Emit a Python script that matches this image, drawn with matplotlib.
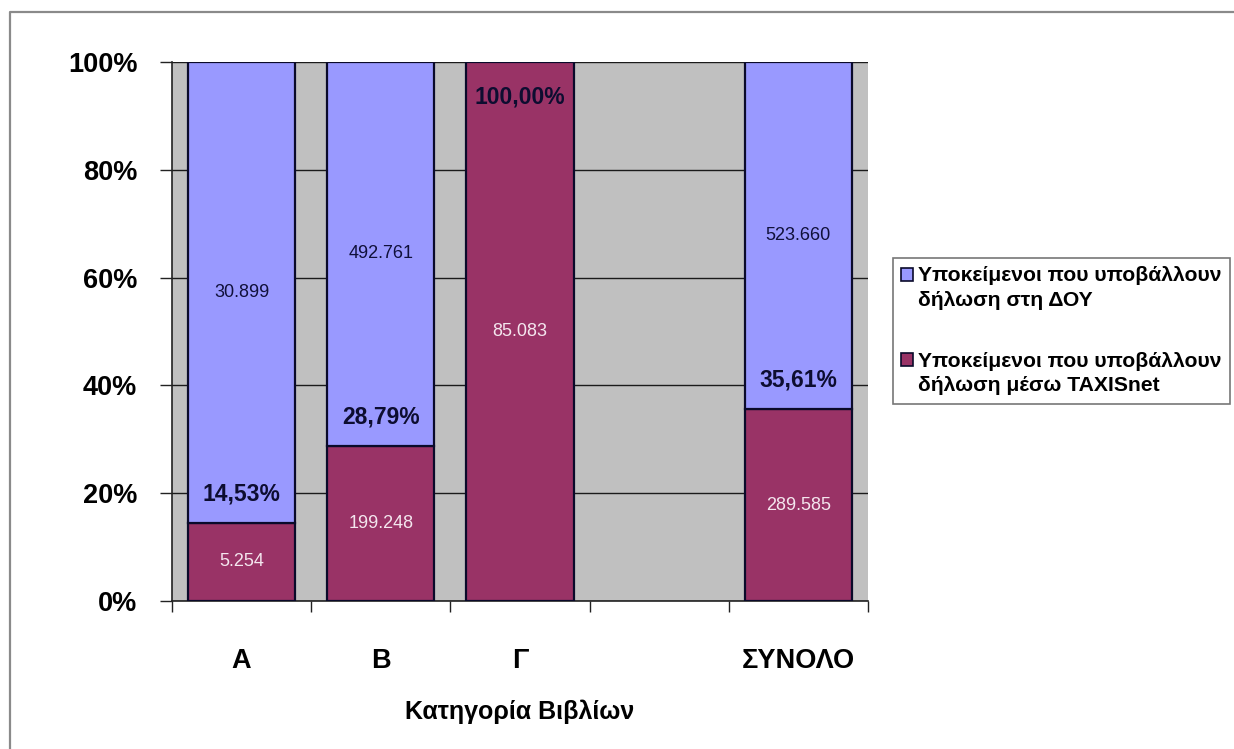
import matplotlib
matplotlib.use("Agg")
import matplotlib.pyplot as plt
from matplotlib.patches import Patch
from matplotlib.lines import Line2D
import numpy as np

plt.rcParams['font.family'] = ['Liberation Sans', 'DejaVu Sans']

# ---- data ----
categories = ['Α', 'Β', 'Γ', '', 'ΣΥΝΟΛΟ']
taxisnet_counts = [5254, 199248, 85083, None, 289585]
doy_counts = [30899, 492761, 0, None, 523660]
series_names = ['Υποκείμενοι που υποβάλλουν\nδήλωση στη ΔΟΥ',
                'Υποκείμενοι που υποβάλλουν\nδήλωση μέσω TAXISnet']
y_ticks = [0, 20, 40, 60, 80, 100]
x_label = 'Κατηγορία Βιβλίων'

col_doy = '#9999FF'
col_tax = '#993366'
edge = '#0a0a2a'

def fmt_int(v):
    return f"{v:,}".replace(',', '.')

def fmt_pct(p):
    return f"{p:.2f}%".replace('.', ',')

W, H = 1234, 749
fig = plt.figure(figsize=(W / 100, H / 100), dpi=100)
fig.patch.set_facecolor('white')
ax = fig.add_axes([172 / W, 1 - 601 / H, (868 - 172) / W, (601 - 62) / H])
ax.set_facecolor('#C0C0C0')

x = np.arange(len(categories))
bw = 0.77
for i, (t, d) in enumerate(zip(taxisnet_counts, doy_counts)):
    if t is None:
        continue
    tot = t + d
    pt = 100.0 * t / tot
    pd_ = 100.0 - pt
    ax.bar(x[i], pt, width=bw, color=col_tax, edgecolor=edge, linewidth=1.6, zorder=3)
    if d > 0:
        ax.bar(x[i], pd_, bottom=pt, width=bw, color=col_doy, edgecolor=edge, linewidth=1.6, zorder=3)
        ax.text(x[i], pt + pd_ / 2, fmt_int(d), ha='center', va='center',
                fontsize=13, color='#10103a', zorder=5)
    ax.text(x[i], pt / 2, fmt_int(t), ha='center', va='center',
            fontsize=13, color='#f4e6ee', zorder=5)
    if pt >= 99.99:
        ax.annotate(fmt_pct(pt), (x[i], pt), xytext=(0, -25), textcoords='offset points',
                    ha='center', va='center', fontsize=16.5, fontweight='bold',
                    color='#0d0d30', zorder=6)
    else:
        ax.annotate(fmt_pct(pt), (x[i], pt), xytext=(0, 21), textcoords='offset points',
                    ha='center', va='center', fontsize=16.5, fontweight='bold',
                    color='#0d0d30', zorder=6)

ax.set_xlim(-0.5, len(categories) - 0.5)
ax.set_ylim(0, 100)
ax.set_yticks(y_ticks)
ax.set_yticklabels([f"{v}%" for v in y_ticks], fontsize=19.5, fontweight='bold')
ax.yaxis.grid(True, color='#1a1a1a', linewidth=1.0, zorder=1)
ax.set_axisbelow(True)

ax.set_xticks(np.arange(-0.5, len(categories)), minor=False)
ax.set_xticklabels([''] * (len(categories) + 1))
ax.set_xticks(x, minor=True)
ax.set_xticklabels(categories, minor=True, fontsize=19.5, fontweight='bold')
ax.tick_params(axis='x', which='major', direction='out', length=8, width=1, color='#222222')
ax.tick_params(axis='x', which='minor', length=0, pad=34)
ax.tick_params(axis='y', direction='out', length=9, width=1, color='#222222', pad=16)

for s in ['top', 'right']:
    ax.spines[s].set_visible(False)
for s in ['left', 'bottom']:
    ax.spines[s].set_color('#222222')
    ax.spines[s].set_linewidth(1.2)

ax.set_xlabel(x_label, fontsize=18, fontweight='bold', labelpad=18)

handles = [Patch(facecolor=col_doy, edgecolor=edge, linewidth=1.2),
           Patch(facecolor=col_tax, edgecolor=edge, linewidth=1.2)]
leg = fig.legend(handles, series_names, loc='upper left',
                 bbox_to_anchor=(893 / W, 1 - 258 / H),
                 prop={'size': 15.2, 'weight': 'bold'},
                 frameon=True, fancybox=False, shadow=False,
                 handlelength=0.55, handleheight=0.55, handletextpad=0.25,
                 borderpad=0.4, labelspacing=2.0, borderaxespad=0)
leg.get_frame().set_edgecolor('#555555')
leg.get_frame().set_linewidth(1.2)
for t in leg.get_texts():
    t.set_linespacing(1.35)
for p in leg.get_patches():
    p.set_y(p.get_y() + 10)

# outer chart border (left and top)
fig.add_artist(Line2D([10 / W, 10 / W, 1.0], [0.0, 1 - 12 / H, 1 - 12 / H],
                      transform=fig.transFigure, color='#8a8a8a', linewidth=1.6))

fig.savefig('out.png', dpi=100)
